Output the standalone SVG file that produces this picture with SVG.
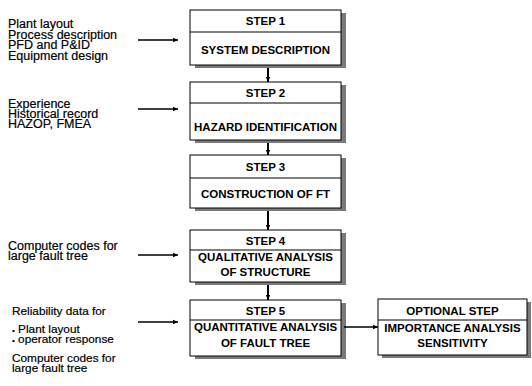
<svg xmlns="http://www.w3.org/2000/svg" width="532" height="386" viewBox="0 0 532 386">
<style>
.lt{font-family:"Liberation Sans",Arial,sans-serif;font-size:12.5px;fill:#000;stroke:#000;stroke-width:0.2}
.ls{font-size:11.8px}
.bu{font-size:8px}
.bt{font-family:"Liberation Sans",Arial,sans-serif;font-size:11.5px;font-weight:bold;fill:#000;text-anchor:middle}
.box{fill:#fff;stroke:#000;stroke-width:1}
.sh{fill:#7a7a7a}
.div{stroke:#000;stroke-width:1}
.ar{stroke:#000;stroke-width:1.3;fill:none}
.vc{stroke:#000;stroke-width:2;fill:none}
</style>
<defs>
<marker id="ah" markerWidth="6" markerHeight="6" refX="5" refY="3" orient="auto" markerUnits="userSpaceOnUse">
<path d="M0,0.8 L5,3 L0,5.2 Z" fill="#000"/>
</marker>
</defs>
<rect width="532" height="386" fill="#fff"/>

<g id="inputs1">
<text class="lt" x="8" y="28">Plant layout</text>
<text class="lt" x="8" y="38.5">Process description</text>
<text class="lt" x="8" y="49">PFD and P&amp;ID</text>
<text class="lt" x="8" y="59.5">Equipment design</text>
</g>
<g id="inputs2">
<text class="lt" x="8" y="108">Experience</text>
<text class="lt" x="8" y="118">Historical record</text>
<text class="lt" x="8" y="128">HAZOP, FMEA</text>
</g>
<g id="inputs4">
<text class="lt" x="8" y="250">Computer codes for</text>
<text class="lt" x="8" y="259.5">large fault tree</text>
</g>
<g id="inputs5">
<text class="lt ls" x="12" y="315">Reliability data for</text>
<text class="lt ls" x="12" y="333"><tspan class="bu">•</tspan> Plant layout</text>
<text class="lt ls" x="12" y="343"><tspan class="bu">•</tspan> operator response</text>
<text class="lt ls" x="12" y="362">Computer codes for</text>
<text class="lt ls" x="12" y="371.5">large fault tree</text>
</g>

<g id="step1">
<rect class="sh" x="195" y="13" width="151" height="55"/>
<rect class="box" x="190" y="10" width="151" height="55"/>
<line class="div" x1="190" y1="32" x2="341" y2="32"/>
<text class="bt" x="265.5" y="25">STEP 1</text>
<text class="bt" x="265.5" y="54">SYSTEM DESCRIPTION</text>
</g>
<g id="step2">
<rect class="sh" x="195" y="85" width="151" height="58"/>
<rect class="box" x="190" y="82" width="151" height="58"/>
<line class="div" x1="190" y1="103" x2="341" y2="103"/>
<text class="bt" x="265.5" y="97">STEP 2</text>
<text class="bt" x="265.5" y="131">HAZARD IDENTIFICATION</text>
</g>
<g id="step3">
<rect class="sh" x="195" y="158" width="151" height="53"/>
<rect class="box" x="190" y="155" width="151" height="53"/>
<line class="div" x1="190" y1="178" x2="341" y2="178"/>
<text class="bt" x="265.5" y="171">STEP 3</text>
<text class="bt" x="265.5" y="198">CONSTRUCTION OF FT</text>
</g>
<g id="step4">
<rect class="sh" x="195" y="233" width="151" height="52"/>
<rect class="box" x="190" y="230" width="151" height="52"/>
<line class="div" x1="190" y1="250" x2="341" y2="250"/>
<text class="bt" x="265.5" y="245">STEP 4</text>
<text class="bt" x="265.5" y="261">QUALITATIVE ANALYSIS</text>
<text class="bt" x="265.5" y="276">OF STRUCTURE</text>
</g>
<g id="step5">
<rect class="sh" x="195" y="303" width="151" height="56"/>
<rect class="box" x="190" y="300" width="151" height="56"/>
<line class="div" x1="190" y1="320" x2="341" y2="320"/>
<text class="bt" x="265.5" y="315">STEP 5</text>
<text class="bt" x="265.5" y="331">QUANTITATIVE ANALYSIS</text>
<text class="bt" x="265.5" y="347">OF FAULT TREE</text>
</g>
<g id="optional">
<rect class="sh" x="382" y="302" width="149" height="56"/>
<rect class="box" x="378" y="299" width="149" height="56"/>
<line class="div" x1="378" y1="320" x2="527" y2="320"/>
<text class="bt" x="452.5" y="315">OPTIONAL STEP</text>
<text class="bt" x="452.5" y="332">IMPORTANCE ANALYSIS</text>
<text class="bt" x="452.5" y="347">SENSITIVITY</text>
</g>

<g id="connectors">
<line class="ar" x1="138" y1="40" x2="178" y2="40" marker-end="url(#ah)"/>
<line class="ar" x1="138" y1="109" x2="178" y2="109" marker-end="url(#ah)"/>
<line class="ar" x1="138" y1="255" x2="178" y2="255" marker-end="url(#ah)"/>
<line class="ar" x1="138" y1="322" x2="178" y2="322" marker-end="url(#ah)"/>
<line class="vc" x1="268" y1="68" x2="268" y2="82" marker-end="url(#ah)"/>
<line class="vc" x1="268" y1="143" x2="268" y2="155" marker-end="url(#ah)"/>
<line class="vc" x1="268" y1="211" x2="268" y2="230" marker-end="url(#ah)"/>
<line class="vc" x1="268" y1="285" x2="268" y2="300" marker-end="url(#ah)"/>
<line class="ar" x1="344" y1="327" x2="378" y2="327" stroke-width="2" marker-end="url(#ah)"/>
</g>
</svg>
